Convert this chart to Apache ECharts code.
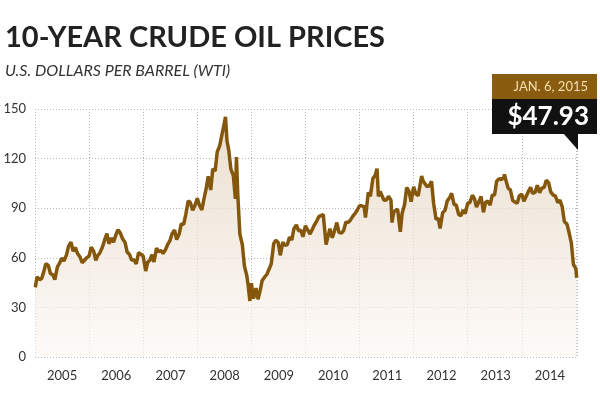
<!DOCTYPE html>
<html>
<head>
<meta charset="utf-8">
<script src="https://cdn.jsdelivr.net/npm/echarts@6/dist/echarts.min.js"></script>
<style>
  html, body { margin: 0; padding: 0; background: #fff; }
  #chart { width: 600px; height: 397px; }
</style>
</head>
<body>
<div id="chart"></div>
<script>
// year labels shown under each band
var years = ['2005', '2006', '2007', '2008', '2009', '2010', '2011', '2012', '2013', '2014'];
var yTicks = [0, 30, 60, 90, 120, 150];

// WTI price (roughly twice a month)
var dates = [
  '2005-01-03','2005-01-15','2005-02-01','2005-02-15','2005-03-01','2005-03-15','2005-04-01','2005-04-15','2005-05-01','2005-05-15','2005-06-01','2005-06-15','2005-07-01','2005-07-15','2005-08-01','2005-08-15','2005-09-01','2005-09-15','2005-10-01','2005-10-15','2005-11-01','2005-11-15','2005-12-01','2005-12-15',
  '2006-01-01','2006-01-15','2006-02-01','2006-02-15','2006-03-01','2006-03-15','2006-04-01','2006-04-15','2006-05-01','2006-05-15','2006-06-01','2006-06-15','2006-07-01','2006-07-15','2006-08-01','2006-08-15','2006-09-01','2006-09-15','2006-10-01','2006-10-15','2006-11-01','2006-11-15','2006-12-01','2006-12-15',
  '2007-01-01','2007-01-18','2007-02-01','2007-02-15','2007-03-01','2007-03-15','2007-04-01','2007-04-15','2007-05-01','2007-05-15','2007-06-01','2007-06-15','2007-07-01','2007-07-15','2007-08-01','2007-08-15','2007-09-01','2007-09-15','2007-10-01','2007-10-15','2007-11-01','2007-11-15','2007-12-01','2007-12-15',
  '2008-01-01','2008-01-15','2008-02-01','2008-02-15','2008-03-01','2008-03-15','2008-04-01','2008-04-15','2008-05-01','2008-05-15','2008-06-01','2008-06-15','2008-07-01','2008-07-10','2008-07-20','2008-08-01','2008-08-15','2008-09-01','2008-09-15','2008-09-22','2008-10-01','2008-10-15','2008-11-01','2008-11-15','2008-12-01','2008-12-10','2008-12-22',
  '2009-01-01','2009-01-15','2009-02-01','2009-02-15','2009-03-01','2009-03-15','2009-04-01','2009-04-15','2009-05-01','2009-05-15','2009-06-01','2009-06-15','2009-07-01','2009-07-15','2009-08-01','2009-08-15','2009-09-01','2009-09-15','2009-10-01','2009-10-15','2009-11-01','2009-11-15','2009-12-01','2009-12-15',
  '2010-01-01','2010-01-15','2010-02-01','2010-02-15','2010-03-01','2010-03-15','2010-04-01','2010-04-15','2010-05-01','2010-05-20','2010-06-01','2010-06-15','2010-07-01','2010-07-15','2010-08-01','2010-08-15','2010-09-01','2010-09-15','2010-10-01','2010-10-15','2010-11-01','2010-11-15','2010-12-01','2010-12-15',
  '2011-01-01','2011-01-15','2011-02-01','2011-02-10','2011-03-01','2011-03-15','2011-04-01','2011-04-15','2011-04-29','2011-05-08','2011-05-20','2011-06-01','2011-06-15','2011-07-01','2011-07-15','2011-08-01','2011-08-08','2011-08-20','2011-09-01','2011-09-15','2011-10-03','2011-10-15','2011-11-01','2011-11-15','2011-12-01','2011-12-15',
  '2012-01-01','2012-01-15','2012-02-01','2012-02-24','2012-03-05','2012-03-15','2012-04-01','2012-04-15','2012-05-01','2012-05-15','2012-06-01','2012-06-15','2012-06-28','2012-07-15','2012-08-01','2012-08-15','2012-09-01','2012-09-14','2012-10-01','2012-10-15','2012-11-01','2012-11-15','2012-12-01','2012-12-15',
  '2013-01-01','2013-01-15','2013-02-01','2013-02-15','2013-03-01','2013-03-15','2013-04-01','2013-04-17','2013-05-01','2013-05-15','2013-06-01','2013-06-15','2013-07-01','2013-07-15','2013-08-01','2013-08-15','2013-09-01','2013-09-06','2013-09-15','2013-10-01','2013-10-15','2013-11-01','2013-11-15','2013-12-01','2013-12-15',
  '2014-01-01','2014-01-15','2014-02-01','2014-02-15','2014-03-01','2014-03-15','2014-04-01','2014-04-15','2014-05-01','2014-05-15','2014-06-01','2014-06-15','2014-07-01','2014-07-15','2014-08-01','2014-08-15','2014-09-01','2014-09-15','2014-10-01','2014-10-15','2014-11-01','2014-11-15','2014-12-01','2014-12-15',
  '2015-01-01','2015-01-06'
];
var prices = [
  42.1, 48.5, 46.8, 47.5, 51.5, 56.5, 55.4, 50.5, 49.7, 46.8, 54.5, 56.6, 59.8, 58.1, 61.6, 66.9, 69.5, 64.0, 66.2, 62.6, 60.5, 57.0, 58.5, 60.0,
  61.0, 66.5, 64.0, 58.5, 61.5, 63.0, 66.5, 70.5, 74.6, 68.5, 72.0, 69.5, 73.9, 77.0, 74.8, 71.5, 69.2, 63.5, 62.0, 58.6, 58.7, 56.3, 63.1, 62.2,
  61.0, 52.0, 57.5, 58.5, 61.9, 57.5, 65.9, 63.6, 64.5, 62.5, 65.0, 68.0, 70.5, 74.5, 76.8, 71.0, 74.5, 80.5, 80.2, 86.0, 94.5, 93.5, 88.7, 91.3,
  96.0, 91.9, 88.9, 95.5, 101.8, 109.3, 101.0, 113.8, 112.5, 124.1, 127.8, 134.0, 141.0, 145.3, 130.7, 125.1, 113.8, 109.7, 95.7, 120.9, 98.5, 74.5, 67.8, 55.0, 49.3, 43.6, 33.9,
  44.6, 35.4, 41.7, 34.9, 40.1, 46.3, 48.4, 49.9, 53.2, 56.3, 68.6, 70.6, 69.3, 61.5, 69.5, 67.5, 68.0, 72.5, 70.8, 77.6, 79.9, 76.4, 76.6, 72.7,
  79.4, 77.0, 74.4, 77.0, 79.7, 81.7, 84.9, 85.5, 86.2, 68.0, 72.6, 77.6, 72.1, 76.0, 81.3, 75.4, 74.9, 76.4, 81.6, 81.3, 82.9, 84.9, 86.8, 88.6,
  91.5, 91.5, 90.8, 84.3, 99.6, 97.2, 107.9, 109.7, 113.9, 97.2, 100.1, 100.3, 94.8, 95.0, 97.2, 94.9, 81.3, 87.9, 88.9, 89.4, 75.7, 86.8, 92.2, 102.6, 100.2, 94.0,
  102.9, 98.7, 97.6, 109.5, 106.5, 105.4, 103.0, 103.5, 106.2, 93.0, 83.2, 84.0, 77.7, 87.1, 88.9, 94.3, 96.5, 99.0, 92.2, 91.9, 86.2, 85.4, 88.9, 86.7,
  93.1, 93.3, 97.8, 95.9, 90.7, 93.5, 97.1, 87.5, 93.5, 94.3, 91.9, 97.9, 98.0, 106.3, 107.9, 107.3, 108.5, 110.5, 107.0, 102.0, 101.2, 94.6, 93.8, 93.0, 97.5,
  98.4, 94.2, 97.5, 100.3, 102.6, 98.9, 99.7, 103.8, 99.4, 102.0, 102.7, 106.9, 105.4, 99.9, 97.9, 97.4, 93.3, 94.9, 90.7, 81.8, 80.5, 75.6, 69.0, 56.0,
  53.3, 47.93
];

var lastLabel = 'JAN. 6, 2015';
var lastPrice = '$47.93';

function toYear(s) {
  var p = s.split('-');
  var y = +p[0];
  var start = Date.UTC(y, 0, 1), end = Date.UTC(y + 1, 0, 1);
  return y + (Date.UTC(y, +p[1] - 1, +p[2]) - start) / (end - start);
}

var seriesData = dates.map(function (d, i) { return [toYear(d), prices[i]]; });

var gridLine = { show: true, lineStyle: { color: '#b8b8b8', type: [1, 2], width: 1 } };

var chart = echarts.init(document.getElementById('chart'), null, { renderer: 'canvas' });
var option = {
  animation: false,
  backgroundColor: '#fff',
  grid: { left: 35, right: 23, top: 109, bottom: 40 },
  xAxis: [
    {
      type: 'value', min: 2005, max: 2015.02, interval: 1,
      axisLine: { show: false }, axisTick: { show: false },
      axisLabel: { show: false },
      splitLine: gridLine
    },
    {
      type: 'category', data: years, boundaryGap: true, position: 'bottom',
      axisLine: { show: false }, axisTick: { show: false }, splitLine: { show: false },
      axisLabel: { color: '#333', fontSize: 13, fontFamily: 'Lato', margin: 12 }
    }
  ],
  yAxis: {
    type: 'value', min: yTicks[0], max: yTicks[yTicks.length - 1], interval: 30,
    axisLine: { show: false }, axisTick: { show: false },
    axisLabel: { color: '#333', fontSize: 13, fontFamily: 'Lato', margin: 9 },
    splitLine: gridLine
  },
  series: [{
    type: 'line',
    xAxisIndex: 0,
    data: seriesData,
    showSymbol: false,
    lineStyle: { color: '#85570c', width: 3.5 },
    areaStyle: {
      color: new echarts.graphic.LinearGradient(0, 0, 0, 1, [
        { offset: 0, color: '#e2d2bb' },
        { offset: 1, color: '#fcf8f5' }
      ])
    },
    z: 3
  }],
  graphic: [
    { type: 'text', left: 5, top: 23, style: { text: '10-YEAR CRUDE OIL PRICES', font: 'bold 29px Lato', fill: '#222' } },
    { type: 'text', left: 5, top: 63, style: { text: 'U.S. DOLLARS PER BARREL (WTI)', font: 'italic 16px Lato', fill: '#333' } },
    { type: 'rect', shape: { x: 492, y: 74, width: 105, height: 25 }, style: { fill: '#8a5c10' }, z: 10 },
    { type: 'rect', shape: { x: 492, y: 99, width: 105, height: 35 }, style: { fill: '#111' }, z: 10 },
    { type: 'polygon', shape: { points: [[563, 133], [578, 133], [578, 150]] }, style: { fill: '#111' }, z: 10 },
    { type: 'text', x: 588, y: 87, style: { text: lastLabel, font: '13px Lato', fill: '#f5dfb0', align: 'right', verticalAlign: 'middle' }, z: 11 },
    { type: 'text', x: 589, y: 117, style: { text: lastPrice, font: 'bold 26px Lato', fill: '#fff', align: 'right', verticalAlign: 'middle' }, z: 11 }
  ]
};
chart.setOption(option);
</script>
</body>
</html>
